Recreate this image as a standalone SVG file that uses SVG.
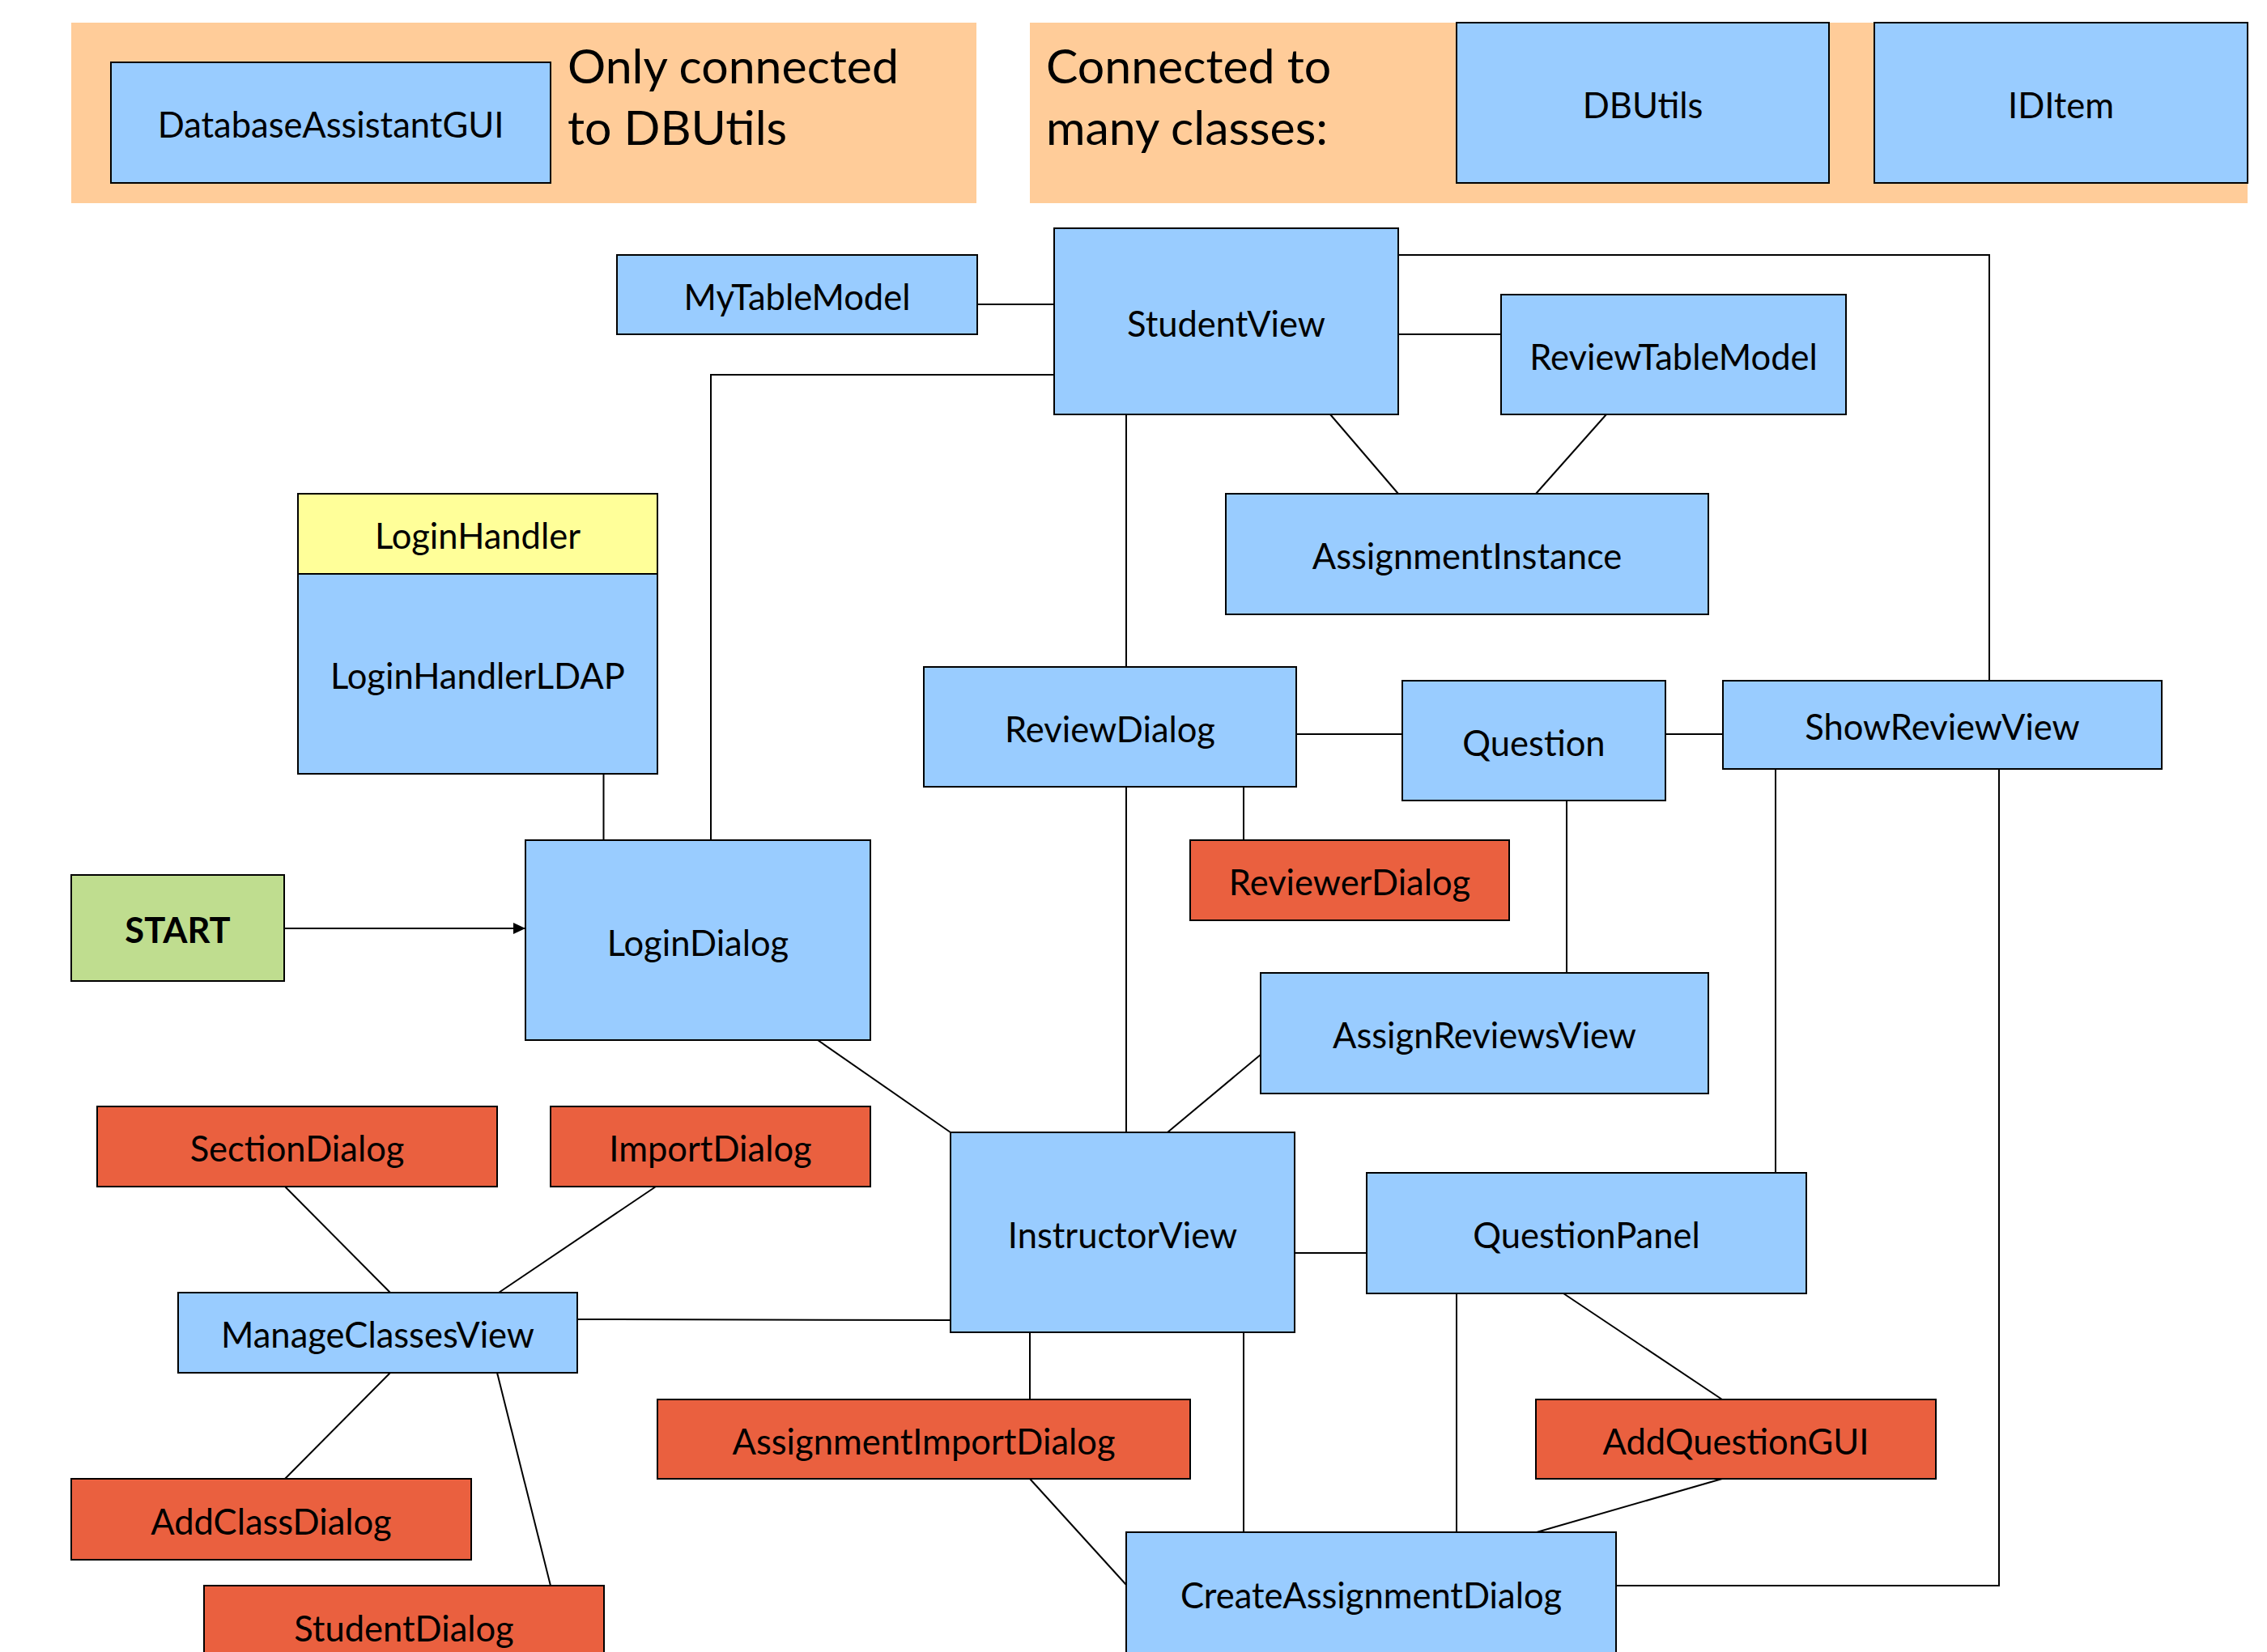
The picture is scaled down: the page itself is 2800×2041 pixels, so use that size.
<svg xmlns="http://www.w3.org/2000/svg" width="2800" height="2041" viewBox="0 0 2800 2041">
<style>
.panel{fill:#FFCC99;stroke:none}
.box{stroke:#000;stroke-width:2}
.blue{fill:#99CCFF}
.red{fill:#EA603F}
.yellow{fill:#FFFF99}
.green{fill:#BFDD8F}
.lbl{font-family:Lato,"Open Sans","Liberation Sans",sans-serif;font-size:43.5px;fill:#000;text-anchor:middle}
.bold{font-weight:bold}
.title{font-family:Lato,"Open Sans","Liberation Sans",sans-serif;font-size:59px;fill:#000}
#connectors line,#connectors polyline{stroke:#000;stroke-width:2;fill:none}
</style>
<defs>
<marker id="arrow" markerWidth="16" markerHeight="14" refX="15" refY="7" orient="auto" markerUnits="userSpaceOnUse">
<path d="M0,0 L15,7 L0,14 Z" fill="#000"/>
</marker>
</defs>
<rect width="2800" height="2041" fill="#fff"/>
<g id="legend-left">
<rect class="panel" x="88" y="28" width="1118" height="223"/>
<text class="title" x="701" y="103">Only connected</text>
<text class="title" x="701" y="179">to DBUtils</text>
</g>
<g id="legend-right">
<rect class="panel" x="1272" y="28" width="1504" height="223"/>
<text class="title" x="1292" y="103">Connected to</text>
<text class="title" x="1292" y="179">many classes:</text>
</g>
<g id="connectors">
<line x1="1207" y1="376" x2="1302" y2="376"/>
<polyline points="1302,463 878,463 878,1038"/>
<polyline points="1727,315 2457,315 2457,841"/>
<line x1="1727" y1="413" x2="1854" y2="413"/>
<line x1="1643" y1="512" x2="1727" y2="610"/>
<line x1="1984" y1="512" x2="1897" y2="610"/>
<line x1="1391" y1="512" x2="1391" y2="824"/>
<line x1="745.5" y1="956" x2="745.5" y2="1038"/>
<line x1="351" y1="1147" x2="649" y2="1147" marker-end="url(#arrow)"/>
<line x1="1601" y1="907" x2="1732" y2="907"/>
<line x1="2057" y1="907" x2="2128" y2="907"/>
<line x1="1536" y1="972" x2="1536" y2="1038"/>
<line x1="1935" y1="989" x2="1935" y2="1202"/>
<line x1="1391" y1="972" x2="1391" y2="1399"/>
<line x1="1010" y1="1285" x2="1174" y2="1399"/>
<line x1="1557" y1="1303" x2="1442" y2="1399"/>
<line x1="2193" y1="950" x2="2193" y2="1449"/>
<polyline points="2469,950 2469,1959 1996,1959"/>
<line x1="1599" y1="1548" x2="1688" y2="1548"/>
<line x1="352" y1="1466" x2="482" y2="1597"/>
<line x1="810" y1="1466" x2="616" y2="1597"/>
<line x1="713" y1="1630" x2="1174" y2="1631"/>
<line x1="482" y1="1696" x2="352" y2="1827"/>
<line x1="614" y1="1696" x2="680" y2="1959"/>
<line x1="1272" y1="1646" x2="1272" y2="1729"/>
<line x1="1272" y1="1827" x2="1391" y2="1958"/>
<line x1="1536" y1="1646" x2="1536" y2="1893"/>
<line x1="1799" y1="1598" x2="1799" y2="1893"/>
<line x1="1931" y1="1598" x2="2127" y2="1729"/>
<line x1="2127" y1="1827" x2="1898" y2="1893"/>
</g>
<g id="DatabaseAssistantGUI"><rect class="box blue" x="137" y="77" width="543" height="149"/><text class="lbl" x="408.5" y="170">DatabaseAssistantGUI</text></g>
<g id="DBUtils"><rect class="box blue" x="1799" y="28" width="460" height="198"/><text class="lbl" x="2029" y="146">DBUtils</text></g>
<g id="IDItem"><rect class="box blue" x="2315" y="28" width="461" height="198"/><text class="lbl" x="2545.5" y="146">IDItem</text></g>
<g id="MyTableModel"><rect class="box blue" x="762" y="315" width="445" height="98"/><text class="lbl" x="984.5" y="383">MyTableModel</text></g>
<g id="StudentView"><rect class="box blue" x="1302" y="282" width="425" height="230"/><text class="lbl" x="1514.5" y="416">StudentView</text></g>
<g id="ReviewTableModel"><rect class="box blue" x="1854" y="364" width="426" height="148"/><text class="lbl" x="2067" y="457">ReviewTableModel</text></g>
<g id="AssignmentInstance"><rect class="box blue" x="1514" y="610" width="596" height="149"/><text class="lbl" x="1812" y="703">AssignmentInstance</text></g>
<g id="LoginHandler"><rect class="box yellow" x="368" y="610" width="444" height="99"/><text class="lbl" x="590" y="678">LoginHandler</text></g>
<g id="LoginHandlerLDAP"><rect class="box blue" x="368" y="709" width="444" height="247"/><text class="lbl" x="590" y="851">LoginHandlerLDAP</text></g>
<g id="ReviewDialog"><rect class="box blue" x="1141" y="824" width="460" height="148"/><text class="lbl" x="1371" y="917">ReviewDialog</text></g>
<g id="Question"><rect class="box blue" x="1732" y="841" width="325" height="148"/><text class="lbl" x="1894.5" y="934">Question</text></g>
<g id="ShowReviewView"><rect class="box blue" x="2128" y="841" width="542" height="109"/><text class="lbl" x="2399" y="914">ShowReviewView</text></g>
<g id="ReviewerDialog"><rect class="box red" x="1470" y="1038" width="394" height="99"/><text class="lbl" x="1667" y="1106">ReviewerDialog</text></g>
<g id="START"><rect class="box green" x="88" y="1081" width="263" height="131"/><text class="lbl bold" x="219.5" y="1165">START</text></g>
<g id="LoginDialog"><rect class="box blue" x="649" y="1038" width="426" height="247"/><text class="lbl" x="862" y="1181">LoginDialog</text></g>
<g id="AssignReviewsView"><rect class="box blue" x="1557" y="1202" width="553" height="149"/><text class="lbl" x="1833.5" y="1295">AssignReviewsView</text></g>
<g id="SectionDialog"><rect class="box red" x="120" y="1367" width="494" height="99"/><text class="lbl" x="367" y="1435">SectionDialog</text></g>
<g id="ImportDialog"><rect class="box red" x="680" y="1367" width="395" height="99"/><text class="lbl" x="877.5" y="1435">ImportDialog</text></g>
<g id="InstructorView"><rect class="box blue" x="1174" y="1399" width="425" height="247"/><text class="lbl" x="1386.5" y="1542">InstructorView</text></g>
<g id="QuestionPanel"><rect class="box blue" x="1688" y="1449" width="543" height="149"/><text class="lbl" x="1959.5" y="1542">QuestionPanel</text></g>
<g id="ManageClassesView"><rect class="box blue" x="220" y="1597" width="493" height="99"/><text class="lbl" x="466.5" y="1665">ManageClassesView</text></g>
<g id="AssignmentImportDialog"><rect class="box red" x="812" y="1729" width="658" height="98"/><text class="lbl" x="1141" y="1797">AssignmentImportDialog</text></g>
<g id="AddQuestionGUI"><rect class="box red" x="1897" y="1729" width="494" height="98"/><text class="lbl" x="2144" y="1797">AddQuestionGUI</text></g>
<g id="AddClassDialog"><rect class="box red" x="88" y="1827" width="494" height="100"/><text class="lbl" x="335" y="1896">AddClassDialog</text></g>
<g id="StudentDialog"><rect class="box red" x="252" y="1959" width="494" height="100"/><text class="lbl" x="499" y="2028">StudentDialog</text></g>
<g id="CreateAssignmentDialog"><rect class="box blue" x="1391" y="1893" width="605" height="166"/><text class="lbl" x="1693.5" y="1987">CreateAssignmentDialog</text></g>
</svg>
